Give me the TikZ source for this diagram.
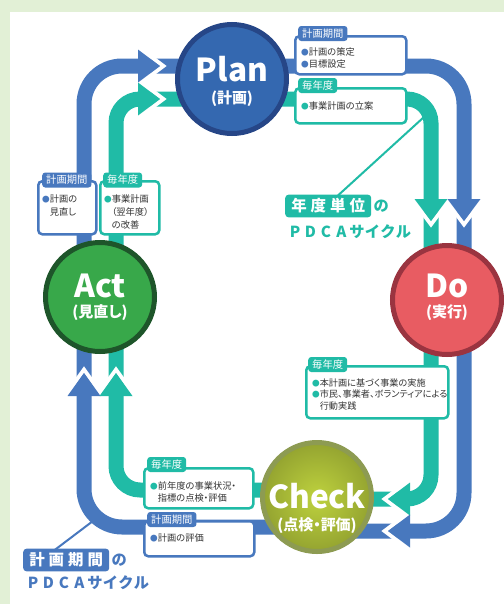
\documentclass[tikz,border=0pt]{standalone}
\usepackage{fontspec}
\setmainfont{Noto Sans CJK JP}
\newfontfamily\boxfont[RawFeature=+palt]{Noto Sans CJK JP}
\usetikzlibrary{positioning}

\definecolor{bggreen}{HTML}{E2F0D6}
\definecolor{pdcablue}{HTML}{4878BE}
\definecolor{pdcateal}{HTML}{20BBA6}
\definecolor{planfill}{HTML}{3468B0}
\definecolor{planring}{HTML}{264687}
\definecolor{dofill}{HTML}{E85C62}
\definecolor{doring}{HTML}{9A3440}
\definecolor{actfill}{HTML}{38A84A}
\definecolor{actring}{HTML}{1E552A}
\definecolor{checkfill}{HTML}{BED23E}
\definecolor{checkring}{HTML}{8D9B52}
\definecolor{textgray}{HTML}{333333}

\newcommand\bulb{{\color{pdcablue}\fontsize{6.5}{6.5}\selectfont ●}}
\newcommand\bult{{\color{pdcateal}\fontsize{6.5}{6.5}\selectfont ●}}
\newcommand\indt{\phantom{\fontsize{6.5}{6.5}\selectfont ●}}
\newcommand\wch[1]{\makebox[0.585cm]{#1}}
\newcommand\nch[1]{\makebox[0.465cm]{#1}}

\tikzset{
  blueband/.style={draw=pdcablue, line width=0.45cm, rounded corners=1.14cm},
  tealband/.style={draw=pdcateal, line width=0.45cm, rounded corners=0.72cm},
  gapline/.style={draw=white, line width=0.12cm, line join=miter},
  phase/.style={circle, minimum size=3.27cm, inner sep=0pt, line width=0.15cm},
  phasename/.style={text=white, inner sep=0pt, font=\bfseries\fontsize{27}{27}\selectfont},
  phasesub/.style={text=white, inner sep=0pt, font=\boxfont\bfseries\fontsize{12.8}{13}\selectfont},
  bluebox/.style={draw=pdcablue, fill=white, line width=0.075cm, rounded corners=0.12cm, anchor=north west, inner sep=0pt},
  tealbox/.style={bluebox, draw=pdcateal},
  bluetab/.style={fill=pdcablue, text=white, rounded corners=0.09cm, anchor=west, inner xsep=0.12cm, inner ysep=0pt, minimum height=0.45cm, font=\boxfont\fontsize{8.8}{9}\selectfont},
  tealtab/.style={bluetab, fill=pdcateal},
  boxtext/.style={anchor=north west, inner sep=0pt, align=left, text=textgray, font=\boxfont\fontsize{7.9}{10.2}\selectfont},
  cyclabel/.style={text=white, rounded corners=0.1cm, inner xsep=0.12cm, inner ysep=0pt, minimum height=0.68cm, anchor=west, font=\bfseries\fontsize{13.2}{14}\selectfont},
  cycno/.style={inner sep=0pt, font=\bfseries\fontsize{13}{14}\selectfont},
  cycname/.style={anchor=west, inner sep=0pt, font=\bfseries\fontsize{13}{13}\selectfont},
}

\begin{document}
\begin{tikzpicture}[x=0.03cm, y=-0.03cm]
\fill[bggreen] (0,0) rectangle (504,604);
\fill[white] (10,12) rectangle (504,604);
\useasboundingbox (0,0) rectangle (504,604);

\coordinate (planc) at (232,79);
\coordinate (doc) at (447,300);
\coordinate (actc) at (100,297);
\coordinate (checkc) at (317,497);

\coordinate (bNW) at (84,66);
\coordinate (bNE) at (464,66);
\coordinate (bSE) at (464,531);
\coordinate (bSW) at (84,527);
\coordinate (tNW) at (116,99);
\coordinate (tNE) at (431,99);
\coordinate (tSE) at (431,499);
\coordinate (tSW) at (116,490);

% leader lines
\coordinate (tleadA) at (333,200);
\coordinate (tleadB) at (424,117);
\coordinate (bleadA) at (52,552);
\coordinate (bleadB) at (93,521);
\draw[pdcateal, line width=0.06cm] (tleadA) -- (tleadB);
\draw[pdcablue, line width=0.06cm] (bleadA) -- (bleadB);

% the two loops
\draw[blueband] (checkc |- bSW) -- (bSW) -- (bNW) -- (planc |- bNW);
\draw[blueband] (planc |- bNE) -- (bNE) -- (bSE) -- (checkc |- bSE);
\draw[tealband] (checkc |- tSW) -- (tSW) -- (tNW) -- (planc |- tNW);
\draw[tealband] (planc |- tNE) -- (tNE) -- (tSE) -- (checkc |- tSE);

% gaps in front of the arrowheads
\draw[gapline] (141.3,49.5) -- (163.3,66) -- (141.3,82.5);
\draw[gapline] (141.3,82.5) -- (163.3,99) -- (141.3,115.5);
\draw[gapline] (447.5,202.3) -- (464,224.3) -- (480.5,202.3);
\draw[gapline] (414.5,202.3) -- (431,224.3) -- (447.5,202.3);
\draw[gapline] (406.7,482.5) -- (384.7,499) -- (406.7,515.5);
\draw[gapline] (406.7,514.5) -- (384.7,531) -- (406.7,547.5);
\draw[gapline] (67.5,392.7) -- (84,369.7) -- (100.5,392.7);
\draw[gapline] (99.5,392.7) -- (116,369.7) -- (132.5,392.7);

% arrowheads
\fill[pdcablue] (138,49.5) -- (160,66) -- (138,82.5) -- cycle;
\fill[pdcateal] (138,82.5) -- (160,99) -- (138,115.5) -- cycle;
\fill[pdcablue] (447.5,199) -- (464,221) -- (480.5,199) -- cycle;
\fill[pdcateal] (414.5,199) -- (431,221) -- (447.5,199) -- cycle;
\fill[pdcateal] (410,482.5) -- (388,499) -- (410,515.5) -- cycle;
\fill[pdcablue] (410,514.5) -- (388,531) -- (410,547.5) -- cycle;
\fill[pdcablue] (67.5,396) -- (84,373) -- (100.5,396) -- cycle;
\fill[pdcateal] (99.5,396) -- (116,373) -- (132.5,396) -- cycle;

% phases
\node[phase, draw=planring, fill=planfill] (plan) at (planc) {};
\node[phase, draw=doring, fill=dofill] (do) at (doc) {};
\node[phase, draw=actring, fill=actfill] (act) at (actc) {};
\node[phase, draw=checkring, inner color=checkfill, outer color=checkfill!78!black] (check) at (checkc) {};

\node[phasename] (planname) at (232,69) {Plan};
\node[phasesub] (plansub) at (232,99) {(計画)};
\node[phasename] (doname) at (447,286) {Do};
\node[phasesub] (dosub) at (447,313) {(実行)};
\node[phasename] (actname) at (100,286) {Act};
\node[phasesub] (actsub) at (100,313) {(見直し)};
\node[phasename] (checkname) at (317,496) {Check};
\node[phasesub] (checksub) at (317,526) {(点検・評価)};

% boxes
\node[bluebox, minimum width=3.33cm, minimum height=1.14cm] (planterm) at (294,35) {};
\node[tealbox, minimum width=3.33cm, minimum height=1.05cm] (planyear) at (294,87) {};
\node[bluebox, minimum width=1.74cm, minimum height=1.59cm] (actterm) at (37,180) {};
\node[tealbox, minimum width=1.77cm, minimum height=1.59cm] (actyear) at (99,180) {};
\node[tealbox, minimum width=4.26cm, minimum height=1.56cm] (doyear) at (305,365) {};
\node[tealbox, minimum width=3.27cm, minimum height=1.20cm] (checkyear) at (143,467) {};
\node[bluebox, minimum width=3.30cm, minimum height=1.05cm] (checkterm) at (143,520) {};

\node[bluetab] (plantermtab) at (298,33.5) {計画期間};
\node[tealtab] (planyeartab) at (298,85.5) {毎年度};
\node[bluetab] (acttermtab) at (42,180) {計画期間};
\node[tealtab] (actyeartab) at (103,180) {毎年度};
\node[tealtab] (doyeartab) at (308,364.5) {毎年度};
\node[tealtab] (checkyeartab) at (147,464.5) {毎年度};
\node[bluetab] (checktermtab) at (147,519.5) {計画期間};

\node[boxtext] (plantermtext) at (301,47.5) {\bulb 計画の策定\\\bulb 目標設定};
\node[boxtext] (planyeartext) at (301,101.5) {\bult 事業計画の立案};
\node[boxtext, font=\boxfont\fontsize{7.9}{11}\selectfont] (acttermtext) at (42,194.5) {\bulb 計画の\\\indt 見直し};
\node[boxtext, font=\boxfont\fontsize{7.9}{11}\selectfont] (actyeartext) at (104,194.5) {\bult 事業計画\\\indt （翌年度）\\\indt の改善};
\node[boxtext, font=\boxfont\fontsize{7.8}{9.8}\selectfont] (doyeartext) at (312,378.5) {\bult 本計画に基づく事業の実施\\\bult 市民、事業者、ボランティアによる\\\indt 行動実践};
\node[boxtext] (checkyeartext) at (150,481.5) {\bult 前年度の事業状況・\\\indt 指標の点検・評価};
\node[boxtext] (checktermtext) at (150,533.5) {\bulb 計画の評価};

% cycle labels
\node[cyclabel, fill=pdcateal] (yeartab) at (285,206) {\wch{年}\wch{度}\wch{単}\wch{位}};
\node[cycno, text=pdcateal, right=0.06cm of yeartab] (yearno) {の};
\node[cycname, text=pdcateal] (yearcycle) at (287,232) {\nch{P}\nch{D}\nch{C}\nch{A}\nch{サ}\nch{イ}\nch{ク}\nch{ル}};
\node[cyclabel, fill=pdcablue] (termtab) at (23,560) {\wch{計}\wch{画}\wch{期}\wch{間}};
\node[cycno, text=pdcablue, right=0.06cm of termtab] (termno) {の};
\node[cycname, text=pdcablue] (termcycle) at (25,583) {\nch{P}\nch{D}\nch{C}\nch{A}\nch{サ}\nch{イ}\nch{ク}\nch{ル}};
\end{tikzpicture}
\end{document}
